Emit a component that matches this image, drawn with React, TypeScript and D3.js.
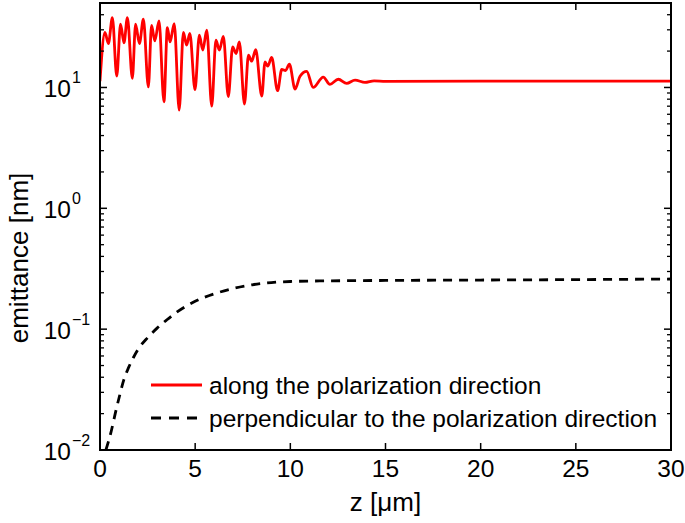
import React from 'react';
import * as d3 from 'd3';

// distance along the wire, micrometres
const zAlong = [0, 0.26, 0.44, 0.65, 0.88, 1.08, 1.26, 1.44, 1.70, 1.87, 2.07, 2.28, 2.54, 2.71, 2.88, 3.10,
  3.36, 3.54, 3.68, 3.90, 4.16, 4.38, 4.55, 4.72, 4.99, 5.22, 5.40, 5.61, 5.87, 6.09, 6.27, 6.48,
  6.74, 6.97, 7.15, 7.32, 7.59, 7.80, 7.97, 8.18, 8.50, 8.67, 8.81, 9.02, 9.33, 9.55, 9.75, 9.95,
  10.25, 10.51, 10.86, 11.2, 11.73, 12.08, 12.52, 12.96, 13.40, 13.92, 14.4, 15, 20, 25, 30];
const emitAlong = [11.3, 28.5, 23.1, 37.9, 12.4, 33.4, 23.4, 37.9, 11.9, 33.4, 23.1, 36.7, 10.1, 32.7, 24.3, 35.6,
  7.6, 31.3, 23.8, 33.8, 6.5, 28.5, 22.4, 28, 9.6, 27.1, 20.4, 29.8, 7.0, 24.6, 20.4, 26.5,
  8.4, 21.7, 19.1, 23.8, 7.3, 18.5, 16.5, 20.6, 8.5, 16.3, 15.0, 17.7, 9.4, 14.1, 13.8, 15.6,
  9.7, 12.4, 13.6, 10.0, 12.2, 10.6, 11.7, 10.8, 11.5, 11.0, 11.35, 11.25, 11.3, 11.3, 11.3];

const zPerp = [0.31, 0.6, 0.8, 1.05, 1.25, 1.5, 1.75, 2.0, 2.5, 3.0, 3.5, 4.0, 5.0, 6.0, 7.0, 8.0, 9.0, 10, 12, 15,
  20, 25, 30];
const emitPerp = [0.01, 0.0145, 0.02, 0.029, 0.038, 0.048, 0.058, 0.068, 0.085, 0.102, 0.119, 0.137, 0.17, 0.196,
  0.217, 0.233, 0.243, 0.248, 0.251, 0.253, 0.255, 0.257, 0.26];

const xTicks = [0, 5, 10, 15, 20, 25, 30];
const yDecades = [-2, -1, 0, 1];
const legendLabels = ['along the polarization direction', 'perpendicular to the polarization direction'];

const W = 685;
const H = 523;
const margin = { left: 100, right: 14, top: 3, bottom: 73 };
const font = 'Arial, "Liberation Sans", Helvetica, sans-serif';

export default function App() {
  const x = d3.scaleLinear().domain([0, 30]).range([margin.left, W - margin.right]);
  const y = d3.scaleLog().domain([0.01, 50]).range([H - margin.bottom, margin.top]);
  const [x0, x1] = x.range();
  const [y0, y1] = y.range();

  const line = d3.line<[number, number]>()
    .x(d => x(d[0]))
    .y(d => y(d[1]))
    .curve(d3.curveMonotoneX);

  const along = line(zAlong.map((z, i) => [z, emitAlong[i]] as [number, number])) || '';
  const perp = line(zPerp.map((z, i) => [z, emitPerp[i]] as [number, number])) || '';

  // minor ticks 2..9 per decade, within domain
  const minor: number[] = [];
  yDecades.forEach(e => {
    for (let k = 2; k <= 9; k++) {
      const v = k * Math.pow(10, e);
      if (v <= 50) minor.push(v);
    }
  });

  const major = 7;
  const minorLen = 4;

  return (
    <svg width={W} height={H} style={{ position: 'absolute', left: 0, top: 0, background: '#fff' }}
      fontFamily={font}>
      <defs>
        <clipPath id="plot">
          <rect x={x0} y={y1} width={x1 - x0} height={y0 - y1} />
        </clipPath>
      </defs>
      <rect width={W} height={H} fill="#fff" />

      <g clipPath="url(#plot)">
        <path d={along} fill="none" stroke="#ff0000" strokeWidth={2.8} strokeLinejoin="round" />
        <path d={perp} fill="none" stroke="#000" strokeWidth={2.8} strokeDasharray="9,7" />
      </g>

      {/* x ticks, bottom and top */}
      {xTicks.map(t => (
        <g key={'x' + t}>
          <line x1={x(t)} x2={x(t)} y1={y0} y2={y0 - major} stroke="#000" strokeWidth={1.5} />
          <line x1={x(t)} x2={x(t)} y1={y1} y2={y1 + major} stroke="#000" strokeWidth={1.5} />
          <text x={x(t)} y={y0 + 27} textAnchor="middle" fontSize={24.5}>{t}</text>
        </g>
      ))}

      {/* y ticks, left and right */}
      {yDecades.map(e => {
        const v = Math.pow(10, e);
        const ty = y(v);
        return (
          <g key={'y' + e}>
            <line x1={x0} x2={x0 + major} y1={ty} y2={ty} stroke="#000" strokeWidth={1.5} />
            <line x1={x1} x2={x1 - major} y1={ty} y2={ty} stroke="#000" strokeWidth={1.5} />
            <text x={x0 - 29} y={ty + 9.5} textAnchor="end" fontSize={24.5}>10</text>
            <text x={x0 - 28} y={ty - 4.5} textAnchor="start" fontSize={16}>
              {e < 0 ? '\u2212' + Math.abs(e) : String(e)}
            </text>
          </g>
        );
      })}
      {minor.map(v => (
        <g key={'m' + v}>
          <line x1={x0} x2={x0 + minorLen} y1={y(v)} y2={y(v)} stroke="#000" strokeWidth={1.3} />
          <line x1={x1} x2={x1 - minorLen} y1={y(v)} y2={y(v)} stroke="#000" strokeWidth={1.3} />
        </g>
      ))}

      <rect x={x0} y={y1} width={x1 - x0} height={y0 - y1} fill="none" stroke="#000" strokeWidth={2} />

      {/* legend */}
      <line x1={151} x2={202} y1={385} y2={385} stroke="#ff0000" strokeWidth={2.8} />
      <text x={209} y={393.5} fontSize={24.5}>{legendLabels[0]}</text>
      <line x1={151} x2={202} y1={418} y2={418} stroke="#000" strokeWidth={2.8} strokeDasharray="10,8" />
      <text x={209} y={426.5} fontSize={24.5}>{legendLabels[1]}</text>

      {/* axis titles */}
      <text x={(x0 + x1) / 2} y={511} textAnchor="middle" fontSize={26}>z [{'\u03bc'}m]</text>
      <text transform={`translate(28, 258) rotate(-90)`} textAnchor="middle" fontSize={26}>emittance [nm]</text>
    </svg>
  );
}
